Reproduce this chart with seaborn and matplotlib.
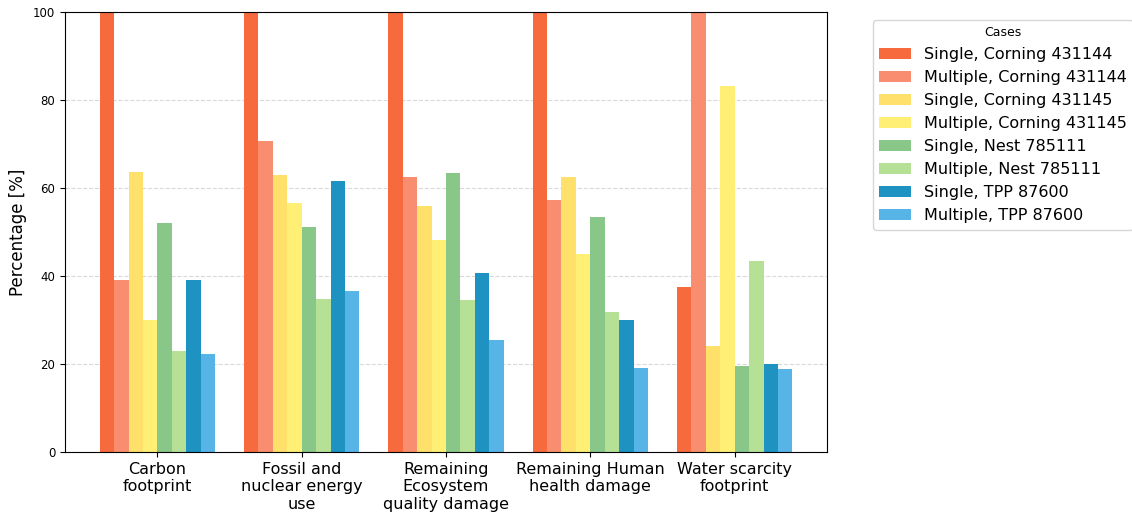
import pandas as pd
import seaborn as sns
import matplotlib.pyplot as plt

# Categorias de impacto (eje x)
categorias = [
    "Carbon\nfootprint",
    "Fossil and\nnuclear energy\nuse",
    "Remaining\nEcosystem\nquality damage",
    "Remaining Human\nhealth damage",
    "Water scarcity\nfootprint",
]

casos = [
    "Single, Corning 431144",
    "Multiple, Corning 431144",
    "Single, Corning 431145",
    "Multiple, Corning 431145",
    "Single, Nest 785111",
    "Multiple, Nest 785111",
    "Single, TPP 87600",
    "Multiple, TPP 87600",
]

# Valores (%) por caso, en el orden de las categorias
single_corning_431144 = [100, 100, 100, 100, 37.5]
multiple_corning_431144 = [39.1, 70.7, 62.5, 57.3, 100]
single_corning_431145 = [63.6, 63.0, 55.9, 62.5, 24.1]
multiple_corning_431145 = [30.0, 56.6, 48.2, 45.0, 83.2]
single_nest_785111 = [52.0, 51.1, 63.4, 53.4, 19.5]
multiple_nest_785111 = [23.0, 34.8, 34.5, 31.8, 43.4]
single_tpp_87600 = [39.1, 61.6, 40.7, 30.0, 20.0]
multiple_tpp_87600 = [22.3, 36.6, 25.5, 19.1, 18.9]

colores = ["#F66A3E", "#F88E6F", "#FEE06B", "#FFEF75",
           "#88C787", "#B6E096", "#1E92C0", "#57B4E6"]

series = [single_corning_431144, multiple_corning_431144,
          single_corning_431145, multiple_corning_431145,
          single_nest_785111, multiple_nest_785111,
          single_tpp_87600, multiple_tpp_87600]

filas = []
for caso, valores in zip(casos, series):
    for cat, v in zip(categorias, valores):
        filas.append({"Categoria": cat, "Caso": caso, "Porcentaje": v})
df = pd.DataFrame(filas)

plt.rcParams['font.family'] = ['DejaVu Sans']

fig = plt.figure(figsize=(11.32, 5.13), dpi=100)
ax = fig.add_axes([65 / 1132, 61 / 513, 762 / 1132, 440 / 513])

sns.barplot(data=df, x="Categoria", y="Porcentaje", hue="Caso",
            order=categorias, hue_order=casos, palette=colores,
            saturation=1, width=0.8, ax=ax, linewidth=0)

ax.set_xlim(-0.64, 4.64)
ax.set_ylim(0, 100)
ax.set_yticks([0, 20, 40, 60, 80, 100])
ax.yaxis.grid(True, linestyle="--", color="#d9d9d9", linewidth=0.8)
ax.set_axisbelow(True)
ax.set_xlabel("")
ax.set_ylabel("Percentage [%]", fontsize=12)
ax.tick_params(axis="x", labelsize=11.5)
ax.tick_params(axis="y", labelsize=8.5)

ax.legend(title="Cases", bbox_to_anchor=(1.05, 1.0), loc="upper left",
          fontsize=11.5, title_fontsize=9, frameon=True)

fig.savefig("out.png", dpi=100)
plt.close(fig)
